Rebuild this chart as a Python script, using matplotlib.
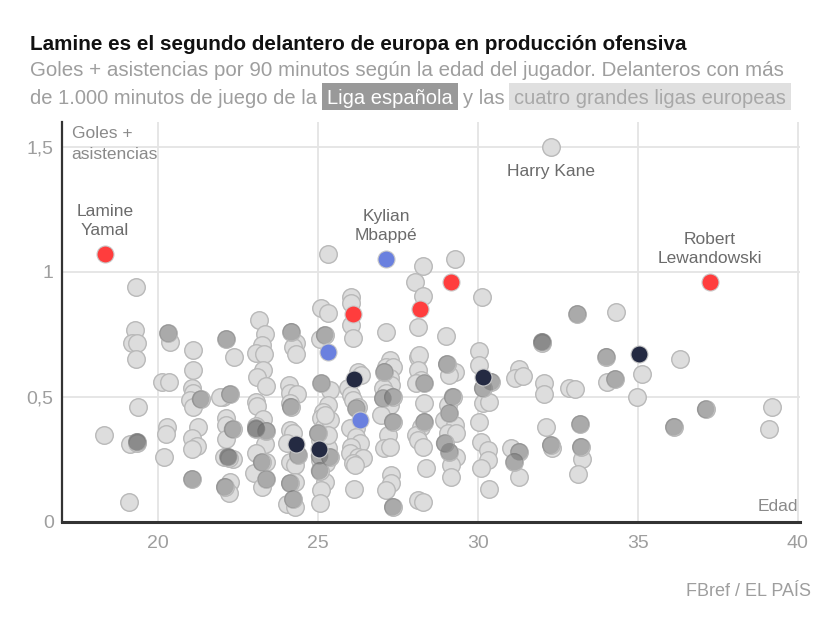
import matplotlib
matplotlib.use('Agg')
import matplotlib.pyplot as plt
from matplotlib import font_manager as fm
from matplotlib.patches import Rectangle

# ---------------- data ----------------
# Players from the other big leagues (light circles)
ages_otros = [18.30, 19.30, 19.28, 19.18, 19.35, 19.31, 19.39, 19.13, 19.10,
              20.37, 21.10, 21.10, 20.12, 20.35, 21.05, 21.10, 21.00, 21.10, 20.27, 20.25, 20.19,
              21.26, 21.05, 21.23, 21.05,
              22.37, 22.04, 21.95, 22.14, 22.12, 22.14, 22.07, 22.35, 22.25, 22.22,
              23.16, 23.34, 23.24, 23.08, 23.31, 23.29, 23.11, 23.37, 23.08, 23.10, 23.29, 23.08,
              23.34, 23.08, 23.39, 23.00, 23.24,
              24.33, 24.22, 24.33, 24.10, 24.12, 24.35, 24.12, 24.12, 24.22, 24.02, 24.12, 24.27,
              24.27, 24.02, 24.27,
              25.31, 25.11, 25.31, 25.05, 25.37, 25.31, 25.16, 25.10, 25.26, 25.16, 25.05, 25.31,
              25.05, 25.26, 25.21, 25.10, 25.05, 25.37, 25.21, 25.30,
              26.04, 26.04, 26.04, 26.09, 26.25, 26.35, 25.94, 26.04, 26.09, 26.25, 26.20, 25.99,
              26.20, 26.30, 26.04, 25.99, 26.25, 26.40, 26.09, 26.15, 26.12,
              27.13, 27.24, 27.13, 27.34, 27.24, 27.29, 27.03, 27.13, 27.24, 26.98, 27.19, 27.08,
              27.24, 27.29, 27.29, 27.13,
              28.28, 28.05, 28.28, 28.12, 28.12, 28.17, 28.12, 28.22, 28.07, 28.33, 28.22, 28.07,
              28.12, 28.28, 28.38, 28.12, 28.28,
              29.28, 29.00, 29.27, 29.11, 29.06, 28.95, 29.27, 29.06, 29.32, 29.32, 29.16, 29.16,
              30.12, 30.05, 30.02, 30.15, 30.36, 30.05, 30.10, 30.31, 30.31, 30.10, 30.34,
              31.29, 31.17, 31.40, 31.03, 31.29,
              32.28, 32.07, 32.07, 32.14, 32.33, 32.85,
              33.04, 33.27, 33.14,
              34.31, 34.05, 35.14, 34.99, 36.32, 39.20, 39.10]
vals_otros = [0.35, 0.94, 0.77, 0.715, 0.715, 0.651, 0.461, 0.312, 0.081,
              0.72, 0.69, 0.61, 0.561, 0.561, 0.535, 0.515, 0.488, 0.461, 0.381, 0.352, 0.261,
              0.381, 0.335, 0.305, 0.292,
              0.661, 0.501, 0.50, 0.415, 0.388, 0.331, 0.261, 0.251, 0.161, 0.117,
              0.81, 0.752, 0.708, 0.675, 0.672, 0.608, 0.581, 0.544, 0.481, 0.464, 0.411, 0.385,
              0.312, 0.275, 0.241, 0.195, 0.141,
              0.715, 0.701, 0.672, 0.548, 0.515, 0.512, 0.475, 0.368, 0.355, 0.315, 0.241, 0.228,
              0.161, 0.072, 0.061,
              1.072, 0.855, 0.835, 0.731, 0.528, 0.468, 0.441, 0.415, 0.395, 0.375, 0.328, 0.295,
              0.248, 0.235, 0.161, 0.128, 0.075, 0.41, 0.43, 0.35,
              0.901, 0.875, 0.788, 0.735, 0.601, 0.588, 0.535, 0.508, 0.488, 0.461, 0.375, 0.375,
              0.341, 0.315, 0.301, 0.275, 0.261, 0.255, 0.235, 0.228, 0.131,
              0.761, 0.648, 0.621, 0.621, 0.575, 0.548, 0.535, 0.515, 0.468, 0.428, 0.348, 0.295,
              0.30, 0.188, 0.155, 0.128,
              1.025, 0.961, 0.905, 0.781, 0.661, 0.668, 0.608, 0.568, 0.555, 0.475, 0.381, 0.348,
              0.328, 0.301, 0.215, 0.088, 0.081,
              1.051, 0.744, 0.601, 0.588, 0.468, 0.408, 0.388, 0.355, 0.355, 0.261, 0.228, 0.181,
              0.902, 0.684, 0.628, 0.477, 0.481, 0.401, 0.321, 0.288, 0.248, 0.215, 0.131,
              0.612, 0.575, 0.584, 0.295, 0.181,
              1.501, 0.555, 0.512, 0.381, 0.295, 0.535,
              0.532, 0.251, 0.192,
              0.841, 0.561, 0.592, 0.501, 0.651, 0.461, 0.371]

# Players from the Spanish league (darker grey)
ages_liga = [19.34, 19.36,
             20.32, 21.33, 21.07,
             22.14, 22.25, 22.33, 22.19, 22.21, 22.09,
             23.06, 23.08, 23.39, 23.24, 23.39,
             24.17, 24.15, 24.38, 24.12, 24.22,
             25.21, 25.11, 25.00, 25.05, 25.05, 25.37,
             26.20,
             27.08, 27.03, 27.34, 27.34, 27.34,
             28.33, 28.33,
             29.03, 29.21, 29.11, 29.11, 28.96,
             30.41, 30.15,
             31.29, 31.14,
             32.00, 32.02, 32.28,
             33.11, 33.20, 33.22,
             34.02, 34.29, 37.12, 36.13]
vals_liga = [0.321, 0.318,
             0.755, 0.491, 0.172,
             0.732, 0.511, 0.371, 0.261, 0.258, 0.141,
             0.375, 0.372, 0.365, 0.239, 0.171,
             0.761, 0.461, 0.268, 0.155, 0.091,
             0.748, 0.555, 0.355, 0.265, 0.205, 0.26,
             0.455,
             0.601, 0.495, 0.501, 0.401, 0.061,
             0.555, 0.401,
             0.632, 0.501, 0.435, 0.281, 0.315,
             0.561, 0.535,
             0.281, 0.241,
             0.721, 0.718, 0.308,
             0.832, 0.392, 0.301,
             0.661, 0.572, 0.451, 0.381]

# Highlighted clubs
ages_rojo = [18.35, 26.09, 28.18, 29.15, 37.25]
vals_rojo = [1.071, 0.832, 0.851, 0.961, 0.959]
ages_azul = [27.13, 25.31, 26.30]
vals_azul = [1.053, 0.681, 0.410]
ages_marino = [24.31, 25.03, 26.12, 30.15, 35.04]
vals_marino = [0.312, 0.291, 0.573, 0.581, 0.672]

x_ticks = [20, 25, 30, 35, 40]
y_ticks = [0, 0.5, 1, 1.5]
y_ticklabels = ['0', '0,5', '1', '1,5']

labels = [("Lamine\nYamal", 18.35, 1.071),
          ("Kylian\nMbappé", 27.13, 1.053),
          ("Harry Kane", 32.28, 1.501),
          ("Robert\nLewandowski", 37.25, 0.959)]

title = "Lamine es el segundo delantero de europa en producción ofensiva"
sub1 = "Goles + asistencias por 90 minutos según la edad del jugador. Delanteros con más"
sub2a = "de 1.000 minutos de juego de la"
sub2b = "Liga española"
sub2c = "y las"
sub2d = "cuatro grandes ligas europeas"
source = "FBref / EL PAÍS"

# ---------------- style ----------------
W, H = 840, 617
names = {f.name for f in fm.fontManager.ttflist}
COND = 'Liberation Sans Narrow' if 'Liberation Sans Narrow' in names else 'Liberation Sans'
REG = 'Liberation Sans'

fig = plt.figure(figsize=(W / 100, H / 100), dpi=100)
fig.patch.set_facecolor('white')

def fx(px):
    return px / W

def fy(py):
    return 1 - py / H

ax = fig.add_axes([fx(62), fy(522), (800 - 62) / W, (522 - 122) / H])
ax.set_xlim(17.0, 40.07)
ax.set_ylim(0, 1.6)

for s in ['top', 'right']:
    ax.spines[s].set_visible(False)
ax.spines['left'].set_color('#333333')
ax.spines['left'].set_linewidth(1.6)
ax.spines['bottom'].set_color('#333333')
ax.spines['bottom'].set_linewidth(2.2)
ax.spines['left'].set_zorder(6)
ax.spines['bottom'].set_zorder(6)

ax.set_xticks(x_ticks)
ax.set_yticks(y_ticks)
ax.set_yticklabels(y_ticklabels)
ax.tick_params(length=0, labelcolor='#9e9e9e', labelsize=14)
ax.tick_params(axis='x', pad=9)
ax.tick_params(axis='y', pad=6)
for lab in ax.get_xticklabels() + ax.get_yticklabels():
    lab.set_fontfamily(COND)
ax.grid(True, color='#e4e4e4', linewidth=1.3, zorder=0)
ax.set_axisbelow(True)

S = 160
all_x = ages_otros + ages_liga
all_y = vals_otros + vals_liga
ax.scatter(all_x, all_y, s=S, facecolor='#dddddd', edgecolor='#b9b9b9', linewidth=1.0, zorder=2)
ax.scatter(ages_liga, vals_liga, s=S, facecolor='#5e5e5e', edgecolor='none', alpha=0.4, zorder=3)
ax.scatter(ages_rojo, vals_rojo, s=S - 10, facecolor='#ff3d3d', edgecolor='#c9c9c9', linewidth=0.8, zorder=4)
ax.scatter(ages_azul, vals_azul, s=S - 10, facecolor='#6a80df', edgecolor='#c9c9c9', linewidth=0.8, zorder=4)
ax.scatter(ages_marino, vals_marino, s=S - 10, facecolor='#242a42', edgecolor='#c9c9c9', linewidth=0.8, zorder=4)

# name labels
offsets = {"Lamine\nYamal": (0, 33), "Kylian\nMbappé": (0, 33), "Harry Kane": (0, -25),
           "Robert\nLewandowski": (0, 33)}
for txt, x, y in labels:
    dx, dy = offsets[txt]
    ax.annotate(txt, (x, y), xytext=(dx * 0.72, dy * 0.72), textcoords='offset points',
                ha='center', va='center', fontsize=12.5, color='#6b6b6b', family=REG,
                linespacing=1.3, zorder=5)

ax.text(0.013, 0.99, "Goles +\nasistencias", transform=ax.transAxes, ha='left', va='top',
        fontsize=12.5, color='#8a8a8a', family=REG, linespacing=1.5, zorder=5)
ax.text(0.997, 0.02, "Edad", transform=ax.transAxes, ha='right', va='bottom',
        fontsize=12.5, color='#8a8a8a', family=REG, zorder=5)

# ---------------- titles ----------------
renderer = fig.canvas.get_renderer()

def width_px(t):
    return t.get_window_extent(renderer).width

def fit(t, target):
    w = width_px(t)
    t.set_fontsize(t.get_fontsize() * target / w)

t_title = fig.text(fx(30), fy(50), title, fontsize=16, fontweight='bold', color='#111111',
                   family=COND, va='baseline', ha='left')
fit(t_title, 655)

t_sub1 = fig.text(fx(30), fy(76), sub1, fontsize=15, color='#9e9e9e', family=COND,
                  va='baseline', ha='left')
fit(t_sub1, 755)
fs = t_sub1.get_fontsize()

# second subtitle line: pieces laid out one after another, scaled to end at x=789
pieces = [(sub2a, '#9e9e9e', None), (sub2b, 'white', '#999999'),
          (sub2c, '#9e9e9e', None), (sub2d, '#a8a8a8', '#e0e0e0')]
gap, pad = 5, 5
probe = [fig.text(0, 0, p[0], fontsize=fs, family=COND) for p in pieces]
total = sum(width_px(t) for t in probe)
for t in probe:
    t.remove()
fixed = gap * 3 + pad * 4
fs2 = fs * (789 - 30 - fixed) / total

xcur = 30
for i, (txt, col, box) in enumerate(pieces):
    if i > 0:
        xcur += gap
    if box is not None:
        t = fig.text(fx(xcur + pad), fy(104), txt, fontsize=fs2, color=col, family=COND,
                     va='baseline', ha='left', zorder=3)
        w = width_px(t)
        fig.patches.append(Rectangle((fx(xcur), fy(110)), (w + 2 * pad) / W, 27 / H,
                                     transform=fig.transFigure, facecolor=box,
                                     edgecolor='none', zorder=1))
        xcur += w + 2 * pad
    else:
        t = fig.text(fx(xcur), fy(104), txt, fontsize=fs2, color=col, family=COND,
                     va='baseline', ha='left')
        xcur += width_px(t)

fig.text(fx(811), fy(596), source, fontsize=13, color='#9e9e9e', family=COND,
         ha='right', va='baseline')

fig.savefig('out.png', dpi=100, facecolor='white')
